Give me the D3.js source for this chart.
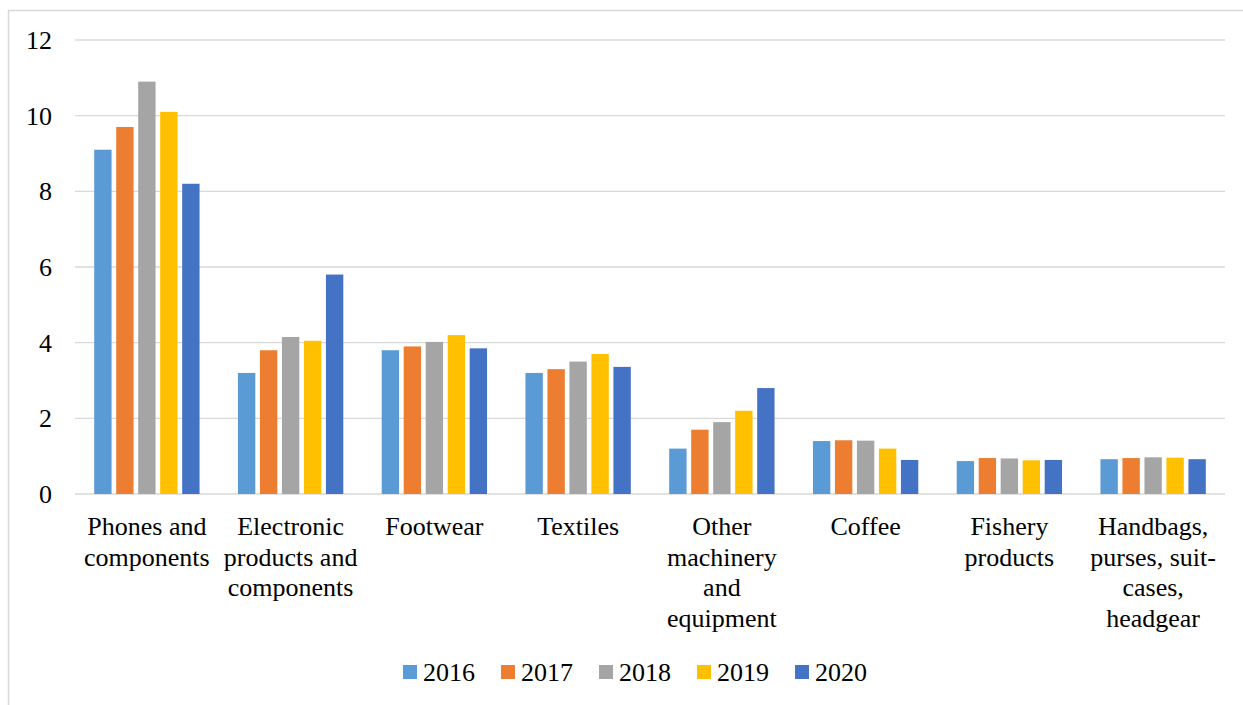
<!DOCTYPE html>
<html>
<head>
<meta charset="utf-8">
<script src="https://cdn.jsdelivr.net/npm/d3@7"></script>
<style>
  html, body { margin: 0; padding: 0; background: #fff; }
  svg { display: block; }
</style>
</head>
<body>
<svg id="chart" width="1243" height="705"></svg>
<script>
// Export values by product group, 2016–2020
const categories = [
  "Phones and\ncomponents",
  "Electronic\nproducts and\ncomponents",
  "Footwear",
  "Textiles",
  "Other\nmachinery\nand\nequipment",
  "Coffee",
  "Fishery\nproducts",
  "Handbags,\npurses, suit-\ncases,\nheadgear"
];
const years = ["2016", "2017", "2018", "2019", "2020"];
const values2016 = [9.1, 3.2, 3.8, 3.2, 1.2, 1.4, 0.87, 0.92];
const values2017 = [9.7, 3.8, 3.9, 3.3, 1.7, 1.42, 0.95, 0.95];
const values2018 = [10.9, 4.15, 4.02, 3.5, 1.9, 1.41, 0.94, 0.97];
const values2019 = [10.1, 4.05, 4.2, 3.7, 2.2, 1.2, 0.89, 0.96];
const values2020 = [8.2, 5.8, 3.85, 3.36, 2.8, 0.9, 0.9, 0.92];
const yTicks = [0, 2, 4, 6, 8, 10, 12];
const colors = ["#5B9BD5", "#ED7D31", "#A5A5A5", "#FFC000", "#4472C4"];

const seriesValues = [values2016, values2017, values2018, values2019, values2020];
const FONT = "'Liberation Serif'";
const svg = d3.select("#chart");

// chart frame
svg.append("rect")
  .attr("x", 8.5).attr("y", 10.5)
  .attr("width", 1260).attr("height", 720)
  .attr("fill", "#fff").attr("stroke", "#d9d9d9").attr("stroke-width", 1.5);

const plotLeft = 75, plotRight = 1225, plotTop = 40, plotBottom = 494;

const y = d3.scaleLinear().domain([0, 12]).range([plotBottom, plotTop]);
const x0 = d3.scaleBand().domain(categories).range([plotLeft, plotRight])
  .paddingInner(0.235).paddingOuter(0.1175);
const x1 = d3.scaleBand().domain(years).range([0, x0.bandwidth()]);

// gridlines
svg.append("g").selectAll("line").data(yTicks).join("line")
  .attr("x1", plotLeft).attr("x2", plotRight)
  .attr("y1", d => y(d)).attr("y2", d => y(d))
  .attr("stroke", "#d9d9d9").attr("stroke-width", 1.4);

// y tick labels
svg.append("g").selectAll("text").data(yTicks).join("text")
  .attr("x", 52).attr("y", d => y(d))
  .attr("dy", "0.35em")
  .attr("text-anchor", "end")
  .style("font-family", FONT)
  .style("font-size", "26px")
  .text(d => d);

// bars
const inset = x1.bandwidth() * 0.105;
const groups = svg.append("g").selectAll("g").data(categories).join("g")
  .attr("transform", d => `translate(${x0(d)},0)`);
groups.selectAll("rect")
  .data((c, i) => years.map((yr, s) => ({ yr, s, v: seriesValues[s][i] })))
  .join("rect")
  .attr("x", d => x1(d.yr) + inset)
  .attr("width", x1.bandwidth() - 2 * inset)
  .attr("y", d => y(d.v))
  .attr("height", d => y(0) - y(d.v))
  .attr("fill", d => colors[d.s]);

// category labels
const lineH = 30.5;
svg.append("g").selectAll("text").data(categories).join("text")
  .attr("text-anchor", "middle")
  .style("font-family", FONT)
  .style("font-size", "26px")
  .each(function (d) {
    const t = d3.select(this);
    const cx = x0(d) + x0.bandwidth() / 2;
    d.split("\n").forEach((line, i) => {
      t.append("tspan")
        .attr("x", cx)
        .attr("y", 535 + i * lineH)
        .text(line);
    });
  });

// legend
const legend = svg.append("g").selectAll("g").data(years).join("g")
  .attr("transform", (d, i) => `translate(${403 + i * 98},665)`);
legend.append("rect")
  .attr("width", 14).attr("height", 14)
  .attr("fill", (d, i) => colors[i]);
legend.append("text")
  .attr("x", 20).attr("y", 15.5)
  .style("font-family", FONT)
  .style("font-size", "26px")
  .text(d => d);
</script>
</body>
</html>
